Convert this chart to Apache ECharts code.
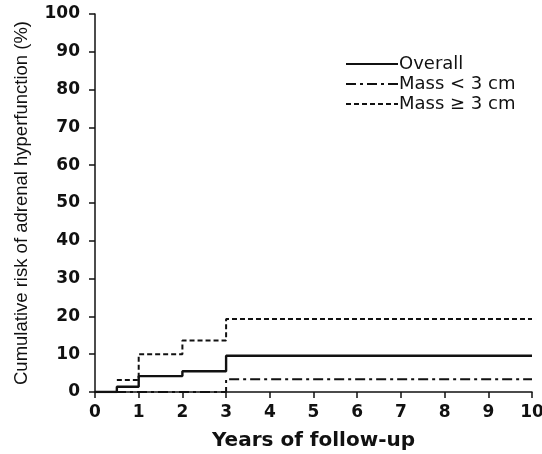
<!DOCTYPE html>
<html><head><meta charset="utf-8">
<script src="https://cdn.jsdelivr.net/npm/echarts@6/dist/echarts.min.js"></script>
<style>html,body{margin:0;padding:0;background:#fff}#c{width:542px;height:454px}</style>
</head><body><div id="c"></div>
<script>
const overallYears = [0, 0.5, 1, 2, 3, 10];
const overallRisk  = [0, 1.4, 4.2, 5.5, 9.6, 9.6];
const smallYears   = [0, 3, 10];
const smallRisk    = [0, 3.4, 3.4];
const largeYears   = [0.5, 1, 2, 3, 10];
const largeRisk    = [3.2, 10, 13.6, 19.3, 19.3];
const seriesNames  = ['Overall', 'Mass < 3 cm', 'Mass \u2265 3 cm'];

const pairs = (xs, ys) => xs.map((x, i) => [x, ys[i]]);
const wide = 'DejaVu Sans, sans-serif';
const narrow = 'Liberation Sans, Arial, sans-serif';
const chart = echarts.init(document.getElementById('c'), null, {renderer: 'canvas'});
chart.setOption({
  animation: false,
  grid: {left: 95, right: 10, top: 14, bottom: 62, outerBoundsMode: 'none', containLabel: false},
  legend: {
    left: 340, top: 50, orient: 'vertical', itemWidth: 52, itemHeight: 12, itemGap: 2,
    itemStyle: {opacity: 0},
    textStyle: {fontFamily: wide, fontSize: 18, lineHeight: 18, color: '#111', padding: [0, 0, 0, -4]},
    data: seriesNames
  },
  xAxis: {
    type: 'value', min: 0, max: 10, interval: 1,
    name: 'Years of follow-up', nameLocation: 'middle', nameGap: 39,
    nameTextStyle: {fontFamily: wide, fontSize: 20, fontWeight: 'bold', color: '#111'},
    axisLine: {lineStyle: {color: '#111', width: 1.5}},
    axisTick: {lineStyle: {color: '#111', width: 1.5}, length: 6},
    axisLabel: {fontFamily: wide, fontSize: 17, fontWeight: 'bold', color: '#111', margin: 12},
    splitLine: {show: false}
  },
  yAxis: {
    type: 'value', min: 0, max: 100, interval: 10,
    name: 'Cumulative risk of adrenal hyperfunction (%)', nameLocation: 'middle', nameGap: 64,
    nameTextStyle: {fontFamily: narrow, fontSize: 18.5, color: '#111'},
    axisLine: {show: true, lineStyle: {color: '#111', width: 1.5}},
    axisTick: {show: true, lineStyle: {color: '#111', width: 1.5}, length: 6},
    axisLabel: {fontFamily: wide, fontSize: 17, fontWeight: 'bold', color: '#111', margin: 15},
    splitLine: {show: false}
  },
  series: [
    {name: seriesNames[0], type: 'line', step: 'end', symbol: 'none', data: pairs(overallYears, overallRisk),
     lineStyle: {color: '#111', width: 2.4, type: 'solid'}, itemStyle: {color: '#111'}},
    {name: seriesNames[1], type: 'line', step: 'end', symbol: 'none', data: pairs(smallYears, smallRisk),
     lineStyle: {color: '#111', width: 2, type: [10, 4, 3, 4]}, itemStyle: {color: '#111'}},
    {name: seriesNames[2], type: 'line', step: 'end', symbol: 'none', data: pairs(largeYears, largeRisk),
     lineStyle: {color: '#111', width: 2, type: [5, 3]}, itemStyle: {color: '#111'}}
  ]
});
</script></body></html>
